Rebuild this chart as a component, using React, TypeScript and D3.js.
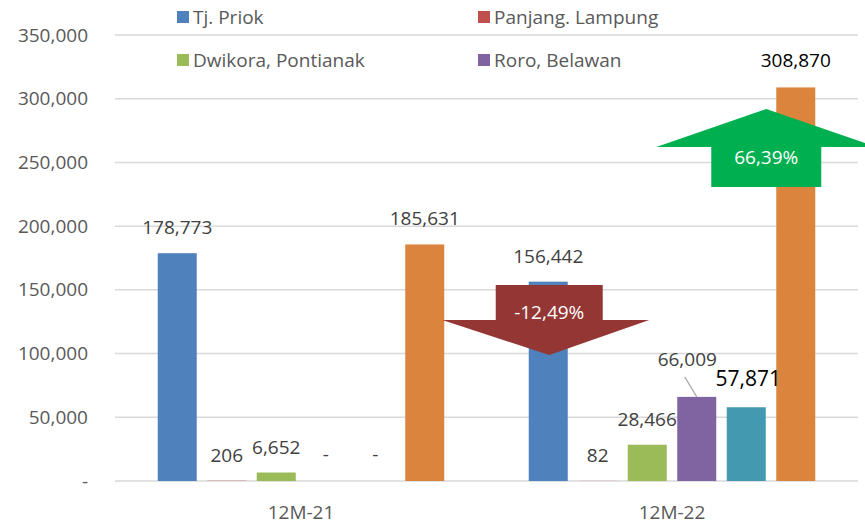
import React from 'react'
import * as d3 from 'd3'

// periods on the x axis
const categories = ['12M-21', '12M-22']
// series shown in the legend (the last two were cut off the legend)
const seriesNames = ['Tj. Priok', 'Panjang. Lampung', 'Dwikora, Pontianak', 'Roro, Belawan', 'Seri 5', 'Seri 6']
const legendNames = ['Tj. Priok', 'Panjang. Lampung', 'Dwikora, Pontianak', 'Roro, Belawan']
// values per series, one per period
const tjPriok = [178773, 156442]
const panjangLampung = [206, 82]
const dwikoraPontianak = [6652, 28466]
const roroBelawan = [0, 66009]
const seri5 = [0, 57871]
const seri6 = [185631, 308870]
const yTicks = [0, 50000, 100000, 150000, 200000, 250000, 300000, 350000]
const changeLabels = ['-12,49%', '66,39%']

const seriesValues = [tjPriok, panjangLampung, dwikoraPontianak, roroBelawan, seri5, seri6]
const colors = ['#4f81bd', '#c0504d', '#9bbb59', '#8064a2', '#4299b0', '#db843d']

const W = 865, H = 527
const FONT = "'Open Sans', 'Noto Sans', sans-serif"

const App = () => {
    const x0 = d3.scaleBand().domain(categories).range([115.5, 857.5]).padding(0)
    const x1 = d3.scaleBand().domain(seriesNames).range([0, x0.bandwidth()])
        .paddingInner(0.212).paddingOuter(0.853)
    const y = d3.scaleLinear().domain([0, 350000]).range([481, 35])
    const fmt = d3.format(',')

    const bars = []
    categories.forEach((c, ci) => {
        seriesNames.forEach((s, si) => {
            bars.push({ c, ci, s, si, v: seriesValues[si][ci] })
        })
    })

    const cx = (b) => x0(b.c) + x1(b.s) + x1.bandwidth() / 2

    // red arrow sits on Tj. Priok 12M-22, green arrow beside last bar of 12M-22
    const redX = cx(bars[6]) + 1
    const greenX = cx(bars[11]) - 29.5

    return (
        <svg width={W} height={H} style={{ position: 'absolute', left: 0, top: 0, background: '#fff' }}
            fontFamily={FONT}>
            {/* grid + y ticks */}
            {yTicks.map(t => (
                <g key={t}>
                    <line x1={115} x2={858} y1={y(t)} y2={y(t)} stroke="#d9d9d9" strokeWidth={1.5} />
                    <text x={88} y={y(t) + 6.5} textAnchor="end" fontSize={19} fill="#595959">
                        {t === 0 ? '-' : fmt(t)}
                    </text>
                </g>
            ))}

            {/* bars */}
            {bars.map(b => (
                <rect key={b.c + b.s} x={x0(b.c) + x1(b.s)} width={x1.bandwidth()}
                    y={y(b.v)} height={y(0) - y(b.v)} fill={colors[b.si]} />
            ))}

            {/* value labels */}
            {bars.map(b => {
                let dx = 0, dy = -19, size = 19, fill = '#404040'
                const key = b.s + '|' + b.c
                if (key === 'Roro, Belawan|12M-22') { dx = -9.5; dy = -31 }
                if (key === 'Seri 5|12M-22') { dx = 2; dy = -21; size = 21; fill = '#000' }
                if (key === 'Seri 6|12M-22') { dy = -20; fill = '#000' }
                if (b.v === 0) dy = -20
                return (
                    <text key={'l' + key} x={cx(b) + dx} y={y(b.v) + dy} textAnchor="middle"
                        fontSize={size} fill={fill}>
                        {b.v === 0 ? '-' : fmt(b.v)}
                    </text>
                )
            })}
            {/* leader line for 66,009 */}
            <line x1={cx(bars[9])} y1={y(roroBelawan[1])} x2={cx(bars[9]) - 12} y2={y(roroBelawan[1]) - 20}
                stroke="#a6a6a6" strokeWidth={1.2} />

            {/* category labels */}
            {categories.map(c => (
                <text key={c} x={x0(c) + x0.bandwidth() / 2} y={519} textAnchor="middle"
                    fontSize={19} fill="#595959">{c}</text>
            ))}

            {/* legend */}
            {legendNames.map((n, i) => {
                const lx = i % 2 === 0 ? 177 : 478
                const ly = i < 2 ? 17 : 60
                return (
                    <g key={n}>
                        <rect x={lx} y={ly - 6} width={12} height={12} fill={colors[i]} />
                        <text x={lx + 16} y={ly + 6.5} fontSize={19} fill="#595959">{n}</text>
                    </g>
                )
            })}

            {/* down arrow */}
            <polygon fill="#943634" points={[
                [redX - 53.5, 285], [redX + 53.5, 285], [redX + 53.5, 320], [redX + 100, 320],
                [redX, 355], [redX - 107, 320], [redX - 53.5, 320]
            ].map(p => p.join(',')).join(' ')} />
            <text x={redX} y={319} textAnchor="middle" fontSize={19} fill="#fff">{changeLabels[0]}</text>

            {/* up arrow */}
            <polygon fill="#00b050" points={[
                [greenX, 109], [greenX + 110, 147], [greenX + 55, 147], [greenX + 55, 187],
                [greenX - 55, 187], [greenX - 55, 147], [greenX - 110, 147]
            ].map(p => p.join(',')).join(' ')} />
            <text x={greenX} y={164} textAnchor="middle" fontSize={19} fill="#fff">{changeLabels[1]}</text>
        </svg>
    )
}

export default App
